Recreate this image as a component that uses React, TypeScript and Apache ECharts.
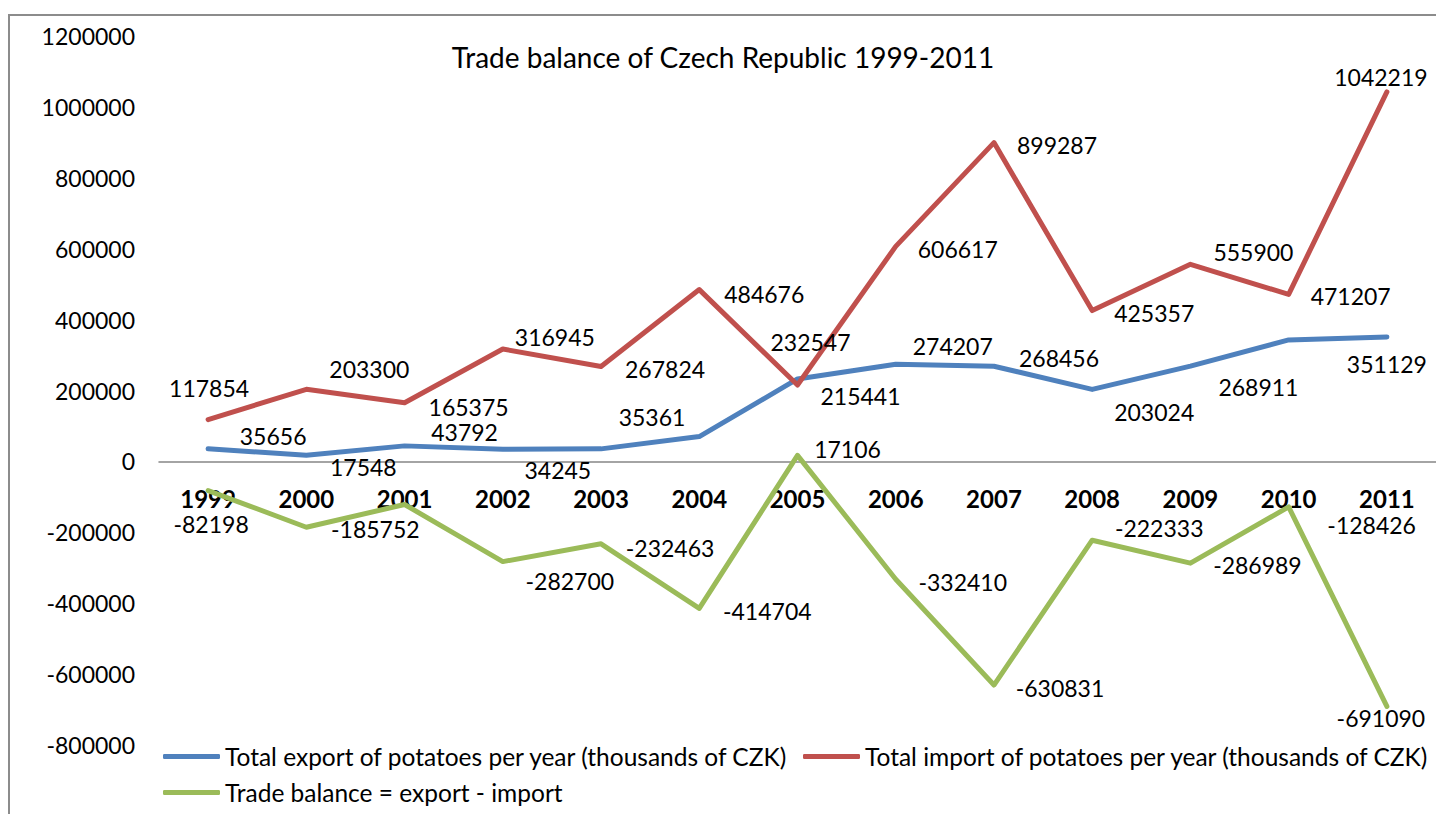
import React, { useEffect, useRef } from "react";
import * as echarts from "echarts";

const years = ["1999", "2000", "2001", "2002", "2003", "2004", "2005", "2006", "2007", "2008", "2009", "2010", "2011"];
const exportValues = [35656, 17548, 43792, 34245, 35361, 69972, 232547, 274207, 268456, 203024, 268911, 342781, 351129];
const importValues = [117854, 203300, 165375, 316945, 267824, 484676, 215441, 606617, 899287, 425357, 555900, 471207, 1042219];
const balanceValues = [-82198, -185752, -121583, -282700, -232463, -414704, 17106, -332410, -630831, -222333, -286989, -128426, -691090];

const seriesNames = [
  "Total export of potatoes per year (thousands of CZK)",
  "Total import of potatoes per year (thousands of CZK)",
  "Trade balance = export - import",
];
const chartTitle = "Trade balance of Czech Republic 1999-2011";

// label offsets (pixels, relative to the point); null = no label shown
const exportLabelOffsets: (number[] | null)[] = [[65, -13], [57, 12], [60, -14], [55, 21], [51, -32], null, [13, -37], [57, -18], [65, -8], [62, 23], [68, 21], null, [0, 27]];
const importLabelOffsets: (number[] | null)[] = [[1, -32], [63, -20], [64, 4], [52, -12], [64, 3], [65, 4], [63, 11], [62, 3], [63, 2], [62, 2], [63, -12], [62, 2], [-6, -15]];
const balanceLabelOffsets: (number[] | null)[] = [[3, 33], [69, 2], null, [67, 19], [69, 4], [68, 3], [50, -6], [67, 3], [66, 3], [67, -12], [67, 2], [83, 18], [-6, 12]];

const FONT = "Lato, 'Open Sans', sans-serif";
const COLORS = ["#4F81BD", "#C0504D", "#9BBB59"];

function buildData(values: number[], offsets: (number[] | null)[]) {
  return values.map((v, i) => {
    const off = offsets[i];
    return {
      value: v,
      label: off ? { show: true, offset: off } : { show: false },
    };
  });
}

function makeSeries(name: string, values: number[], offsets: (number[] | null)[], color: string) {
  return {
    name,
    type: "line",
    data: buildData(values, offsets),
    color,
    symbol: "circle",
    symbolSize: 1,
    showSymbol: true,
    itemStyle: { color },
    lineStyle: { color, width: 5, cap: "round", join: "round" },
    label: {
      show: true,
      position: "inside",
      color: "#000",
      fontFamily: FONT,
      fontSize: 23,
      formatter: (p: any) => String(p.value),
    },
    emphasis: { disabled: true },
    z: 2,
  };
}

const legendBase = {
  orient: "horizontal",
  padding: 0,
  itemWidth: 57,
  itemHeight: 5,
  icon: "roundRect",
  selectedMode: false,
  textStyle: { fontFamily: FONT, fontSize: 24.5, color: "#000", lineHeight: 24 },
};

export default function App() {
  const ref = useRef<HTMLDivElement>(null);
  useEffect(() => {
    if (!ref.current) return;
    const chart = echarts.init(ref.current, undefined, { renderer: "svg" });
    chart.setOption({
      animation: false,
      backgroundColor: "#ffffff",
      title: {
        text: chartTitle,
        left: 723,
        top: 43,
        padding: 0,
        textAlign: "center",
        textStyle: { fontFamily: FONT, fontSize: 28, fontWeight: "normal", color: "#000", lineHeight: 28 },
      },
      graphic: [
        {
          type: "rect",
          shape: { x: 9, y: 15, width: 1500, height: 900 },
          style: { fill: "none", stroke: "#8c8c8c", lineWidth: 2 },
          silent: true,
          z: 0,
        },
      ],
      legend: [
        { ...legendBase, data: [seriesNames[0]], left: 163, top: 744 },
        { ...legendBase, data: [seriesNames[1]], left: 803, top: 744 },
        { ...legendBase, data: [seriesNames[2]], left: 163, top: 780 },
      ],
      grid: { left: 159, right: -3, top: 36, bottom: 69, containLabel: false },
      xAxis: {
        type: "category",
        data: years,
        boundaryGap: true,
        axisLine: { show: true, onZero: true, lineStyle: { color: "#868686", width: 1.5 } },
        axisTick: { show: false },
        splitLine: { show: false },
        axisLabel: {
          // labels sit just under the zero line (284px above the grid's bottom edge)
          margin: -259,
          fontFamily: FONT,
          fontSize: 24,
          lineHeight: 24,
          fontWeight: "bold",
          color: "#000",
        },
        z: 1,
      },
      yAxis: {
        type: "value",
        min: -800000,
        max: 1200000,
        interval: 200000,
        axisLine: { show: false },
        axisTick: { show: false },
        splitLine: { show: false },
        axisLabel: {
          margin: 24,
          fontFamily: FONT,
          fontSize: 23,
          color: "#000",
          formatter: (v: number) => String(v),
        },
      },
      series: [
        makeSeries(seriesNames[0], exportValues, exportLabelOffsets, COLORS[0]),
        makeSeries(seriesNames[1], importValues, importLabelOffsets, COLORS[1]),
        makeSeries(seriesNames[2], balanceValues, balanceLabelOffsets, COLORS[2]),
      ],
    });
    return () => chart.dispose();
  }, []);
  return (
    <div
      ref={ref}
      style={{ position: "fixed", left: 0, top: 0, width: 1436, height: 814, background: "#fff" }}
    />
  );
}
